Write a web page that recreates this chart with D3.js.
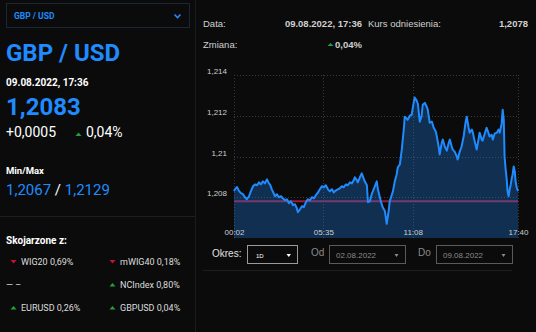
<!DOCTYPE html>
<html><head><meta charset="utf-8">
<script src="https://cdn.jsdelivr.net/npm/d3@7"></script>
<style>
html,body{margin:0;padding:0;background:#0b0b0b;}
svg{display:block;}
</style></head>
<body>
<svg id="c" width="536" height="332"></svg>
<script>
// ---- data ----
const pair = "GBP / USD";
const quoteTime = "09.08.2022, 17:36";
const lastPrice = "1,2083";
const changeAbs = "+0,0005";
const changePct = "0,04%";
const minPrice = "1,2067";
const maxPrice = "1,2129";
const refPrice = 1.2078;
const refPriceLabel = "1,2078";
const related = [
  {name:"WIG20 0,69%", dir:"down"},
  {name:"mWIG40 0,18%", dir:"down"},
  {name:"— –", dir:null},
  {name:"NCIndex 0,80%", dir:"up"},
  {name:"EURUSD 0,26%", dir:"up"},
  {name:"GBPUSD 0,04%", dir:"up"}
];
const yTicks = [1.208, 1.21, 1.212, 1.214];
const yDomain = [1.206, 1.214];
const xTicks = ["00:02","05:35","11:08","17:40"];
const times = ["00:02","00:06","00:13","00:21","00:28","00:35","00:43","00:50","00:58","01:05",
"01:13","01:20","01:28","01:35","01:42","01:50","01:57","02:05","02:12","02:16",
"02:23","02:35","02:42","02:49","02:57","03:04","03:12","03:19","03:27","03:34",
"03:42","03:49","03:56","04:00","04:08","04:15","04:22","04:30","04:37","04:45",
"04:52","05:00","05:07","05:15","05:22","05:29","05:37","05:44","05:52","05:59",
"06:07","06:14","06:22","06:29","06:36","06:44","06:51","06:59","07:06","07:14",
"07:21","07:28","07:32","07:40","07:43","07:51","07:58","08:02","08:09","08:17",
"08:21","08:28","08:35","08:47","08:54","08:58","09:09","09:16","09:24","09:31",
"09:39","09:42","09:54","10:01","10:08","10:12","10:20","10:27","10:35","10:38",
"10:46","10:49","10:57","11:04","11:08","11:15","11:23","11:27","11:34","11:41",
"11:45","11:53","12:00","12:04","12:11","12:19","12:26","12:34","12:37","12:45",
"12:48","12:56","13:00","13:07","13:15","13:22","13:26","13:33","13:37","13:44",
"13:52","13:55","14:03","14:10","14:18","14:25","14:29","14:36","14:40","14:48",
"14:51","14:59","15:06","15:14","15:17","15:25","15:28","15:36","15:43","15:47",
"15:54","16:02","16:06","16:13","16:21","16:28","16:32","16:39","16:43","16:47",
"16:50","16:54","16:58","17:01","17:05","17:09","17:13","17:16","17:20","17:24",
"17:28","17:31","17:35","17:40"];
const prices = [1.2083,1.2084,1.2085,1.2083,1.2082,1.20815,1.2080,1.2079,1.20805,1.2083,
1.20854,1.20863,1.20859,1.20873,1.20863,1.20878,1.20868,1.20888,1.20868,1.20863,
1.20839,1.20805,1.20815,1.2080,1.20805,1.20795,1.20785,1.2079,1.20771,1.2078,
1.20761,1.20766,1.20746,1.20727,1.20741,1.20756,1.20751,1.20776,1.2079,1.20785,
1.2080,1.20795,1.2081,1.20824,1.20839,1.20854,1.20849,1.20859,1.20839,1.20829,
1.20839,1.20824,1.20834,1.20839,1.20844,1.20854,1.20849,1.20863,1.20859,1.20873,
1.20868,1.20883,1.20898,1.20883,1.20873,1.20898,1.20917,1.20902,1.20878,1.20859,
1.20776,1.2078,1.20815,1.20854,1.20878,1.20839,1.2078,1.20751,1.20732,1.2067,
1.20741,1.2078,1.20829,1.20878,1.20912,1.20946,1.20961,1.21034,1.21141,1.21195,
1.21185,1.2118,1.2120,1.21205,1.21239,1.2129,1.21273,1.21259,1.21171,1.2120,
1.21254,1.21263,1.21244,1.21229,1.21166,1.21171,1.21141,1.21122,1.21102,1.21044,
1.2101,1.21068,1.21083,1.21049,1.21029,1.21068,1.21083,1.21049,1.21034,1.21024,
1.2100,1.20985,1.21024,1.21049,1.21102,1.21171,1.21195,1.21141,1.21117,1.21132,
1.21122,1.21073,1.21034,1.21093,1.21117,1.21083,1.21078,1.21112,1.21141,1.21127,
1.21098,1.21107,1.21083,1.21112,1.21117,1.21132,1.21117,1.21161,1.21229,1.2118,
1.2100,1.20937,1.20888,1.20829,1.20805,1.20839,1.20863,1.20888,1.20912,1.20951,
1.20927,1.20878,1.20849,1.2083];
const periodLabel = "1D";
const dateFrom = "02.08.2022";
const dateTo = "09.08.2022";

// ---- setup ----
const svg = d3.select("#c");
const BLUE = "#1f8bff";
const LEFT_FONT = "Roboto, 'Noto Sans', sans-serif";
const RIGHT_FONT = "'Liberation Sans', Arial, sans-serif";
const parse = d3.timeParse("%Y-%m-%d %H:%M");
const t = s => parse("2022-08-09 " + s);
const fmtNum = d3.formatLocale({decimal:",", thousands:" ", grouping:[3], currency:["",""]});

svg.append("rect").attr("width",536).attr("height",332).attr("fill","#0b0b0b");

// ---- left panel ----
const L = svg.append("g").attr("font-family", LEFT_FONT);
L.append("rect").attr("x",6.5).attr("y",3.5).attr("width",183).attr("height",24)
  .attr("fill","none").attr("stroke","#1d2733").attr("stroke-width",1);
L.append("text").attr("x",14).attr("y",19).attr("fill",BLUE).attr("font-size",8.5)
  .attr("font-weight","bold").text(pair);
L.append("path").attr("d","M174.5,14.5 L177.5,17.5 L180.5,14.5").attr("fill","none")
  .attr("stroke",BLUE).attr("stroke-width",1.6);
L.append("text").attr("x",6).attr("y",61).attr("fill",BLUE).attr("font-size",24)
  .attr("font-weight","bold").text(pair);
L.append("text").attr("x",6).attr("y",86).attr("fill","#fff").attr("font-size",10)
  .attr("font-weight","bold").text(quoteTime);
L.append("text").attr("x",6).attr("y",115).attr("fill",BLUE).attr("font-size",24)
  .attr("font-weight","bold").text(lastPrice);
L.append("text").attr("x",6).attr("y",137).attr("fill","#fff").attr("font-size",14).text(changeAbs);
L.append("path").attr("d","M75.5,136 L78.5,132.5 L81.5,136 Z").attr("fill","#22a13a");
L.append("text").attr("x",86).attr("y",137).attr("fill","#fff").attr("font-size",14).text(changePct);
L.append("text").attr("x",6).attr("y",174).attr("fill","#fff").attr("font-size",9.5)
  .attr("font-weight","bold").text("Min/Max");
const mm = L.append("text").attr("x",6).attr("y",194.5).attr("font-size",15);
mm.append("tspan").attr("fill",BLUE).text(minPrice);
mm.append("tspan").attr("fill","#fff").text(" / ");
mm.append("tspan").attr("fill",BLUE).text(maxPrice);
L.append("line").attr("x1",0).attr("x2",195).attr("y1",216.5).attr("y2",216.5)
  .attr("stroke","#1e1e1e");
L.append("text").attr("x",6).attr("y",243.5).attr("fill","#fff").attr("font-size",10)
  .attr("font-weight","bold").text("Skojarzone z:");
related.forEach((r,i)=>{
  const col = i%2, row = Math.floor(i/2);
  const bx = col ? 110 : 11, by = 265 + row*23;
  if (r.dir === "down") {
    L.append("path").attr("d",`M${bx-0.5},${by-5} L${bx+5.5},${by-5} L${bx+2.5},${by-1.5} Z`).attr("fill","#c8102e");
  } else if (r.dir === "up") {
    L.append("path").attr("d",`M${bx-0.5},${by-1.5} L${bx+5.5},${by-1.5} L${bx+2.5},${by-5} Z`).attr("fill","#22a13a");
  }
  L.append("text").attr("x", r.dir ? bx+10 : 6).attr("y",by).attr("fill","#ddd")
    .attr("font-size",9).text(r.name);
});
svg.append("line").attr("x1",195.5).attr("x2",195.5).attr("y1",0).attr("y2",332).attr("stroke","#1c1c1c");

// ---- right panel header ----
const R = svg.append("g").attr("font-family", RIGHT_FONT).attr("font-size",9.5).attr("fill","#d0d0d0");
R.append("text").attr("x",203).attr("y",27).text("Data:");
R.append("text").attr("x",362).attr("y",27).attr("text-anchor","end").attr("font-weight","bold").text(quoteTime);
R.append("text").attr("x",368).attr("y",27).text("Kurs odniesienia:");
R.append("text").attr("x",528).attr("y",27).attr("text-anchor","end").attr("font-weight","bold").text(refPriceLabel);
R.append("text").attr("x",203).attr("y",48).text("Zmiana:");
R.append("path").attr("d","M327.5,46 L330.5,43 L333.5,46 Z").attr("fill","#22a13a");
R.append("text").attr("x",335).attr("y",48).attr("font-weight","bold").text(changePct);

// ---- chart ----
const data = times.map((s,i)=>({t:t(s), v:prices[i]}));
const x = d3.scaleTime().domain([t(times[0]), t(times[times.length-1])]).range([234,518]);
const y = d3.scaleLinear().domain(yDomain).range([238,75]);
const C = svg.append("g");

// grid
C.selectAll(".hg").data(yTicks).join("line")
  .attr("x1",234).attr("x2",518).attr("y1",d=>Math.round(y(d))+0.5).attr("y2",d=>Math.round(y(d))+0.5)
  .attr("stroke","#3a3a3a").attr("stroke-dasharray","1,2");
C.selectAll(".vg").data(xTicks).join("line")
  .attr("x1",d=>Math.round(x(t(d)))+0.5).attr("x2",d=>Math.round(x(t(d)))+0.5)
  .attr("y1",75).attr("y2",238)
  .attr("stroke","#3a3a3a").attr("stroke-dasharray","1,2");

// reference line
C.append("line").attr("x1",234).attr("x2",518).attr("y1",y(refPrice)).attr("y2",y(refPrice))
  .attr("stroke","#9e1838").attr("stroke-width",2);

// area
C.append("path").datum(data)
  .attr("d", d3.area().x(d=>x(d.t)).y0(y(yDomain[0])).y1(d=>y(d.v)))
  .attr("fill","#1e7fe6").attr("fill-opacity",0.32);
C.append("path").datum(data)
  .attr("d", d3.line().x(d=>x(d.t)).y(d=>y(d.v)))
  .attr("fill","none").attr("stroke",BLUE).attr("stroke-width",2).attr("stroke-linejoin","round");

// axes labels
const yAxis = d3.axisLeft(y).tickValues(yTicks).tickSize(0).tickFormat(d=>fmtNum.format("~g")(d).replace(".",","));
const ya = C.append("g").attr("transform","translate(227,-4)").call(yAxis);
ya.select(".domain").remove();
ya.selectAll("text").attr("fill","#cfcfcf").attr("font-size",8).attr("font-family",RIGHT_FONT).attr("x",0);
const xAxis = d3.axisBottom(x).tickValues(xTicks.map(t)).tickSize(0).tickFormat(d3.timeFormat("%H:%M"));
const xa = C.append("g").attr("transform","translate(0,226)").call(xAxis);
xa.select(".domain").remove();
xa.selectAll("text").attr("fill","#cfcfcf").attr("font-size",8).attr("font-family",RIGHT_FONT);

// ---- controls ----
const K = svg.append("g").attr("font-family", RIGHT_FONT);
K.append("text").attr("x",212).attr("y",257).attr("fill","#e0e0e0").attr("font-size",10).text("Okres:");
K.append("rect").attr("x",247.5).attr("y",245.5).attr("width",50).attr("height",18).attr("fill","none").attr("stroke","#9a9a9a");
K.append("text").attr("x",256).attr("y",257.5).attr("fill","#fff").attr("font-size",6).text(periodLabel);
K.append("path").attr("d","M286.5,254 L291,254 L288.75,257 Z").attr("fill","#fff");
K.append("text").attr("x",311).attr("y",256).attr("fill","#8a8a8a").attr("font-size",10).text("Od");
K.append("rect").attr("x",329.5).attr("y",245.5).attr("width",76).attr("height",18).attr("fill","none").attr("stroke","#5a5a5a");
K.append("text").attr("x",336).attr("y",257.5).attr("fill","#8a8a8a").attr("font-size",8).text(dateFrom);
K.append("path").attr("d","M394.5,254 L398.5,254 L396.5,257 Z").attr("fill","#8a8a8a");
K.append("text").attr("x",418).attr("y",256).attr("fill","#8a8a8a").attr("font-size",10).text("Do");
K.append("rect").attr("x",436.5).attr("y",245.5).attr("width",76).attr("height",18).attr("fill","none").attr("stroke","#5a5a5a");
K.append("text").attr("x",443).attr("y",257.5).attr("fill","#8a8a8a").attr("font-size",8).text(dateTo);
K.append("path").attr("d","M501.5,254 L505.5,254 L503.5,257 Z").attr("fill","#8a8a8a");
K.append("line").attr("x1",203).attr("x2",512).attr("y1",270.5).attr("y2",270.5).attr("stroke","#1e1e1e");
</script>
</body></html>
